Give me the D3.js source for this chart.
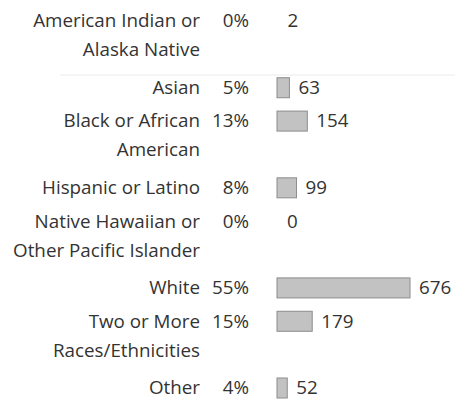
<!DOCTYPE html>
<html><head><meta charset="utf-8">
<script src="https://cdn.jsdelivr.net/npm/d3@7"></script>
<style>body{margin:0;background:#fff}svg{display:block}text{font-family:"Open Sans",sans-serif;fill:#333}</style>
</head><body>
<svg id="c" width="455" height="403"></svg>
<script>
const categories = [
  ["American Indian or","Alaska Native"],
  ["Asian"],
  ["Black or African","American"],
  ["Hispanic or Latino"],
  ["Native Hawaiian or","Other Pacific Islander"],
  ["White"],
  ["Two or More","Races/Ethnicities"],
  ["Other"]
];
const percents = ["0%","5%","13%","8%","0%","55%","15%","4%"];
const counts = [2,63,154,99,0,676,179,52];

const svg = d3.select("#c");
const starts = [];
let acc = 0;
categories.forEach(c => { starts.push(acc); acc += c.length; });
const y = d3.scaleLinear().domain([0, starts[starts.length-1]]).range([21, 388]);
const x = d3.scaleLinear().domain([0, d3.max(counts)]).range([277, 410]);
const lineGap = 29, fs = 18.8, barH = 20;

svg.append("line").attr("x1",60).attr("x2",455).attr("y1",75).attr("y2",75)
  .attr("stroke","#ececec").attr("stroke-width",1);

const rows = svg.selectAll("g.row").data(categories).join("g").attr("class","row");
rows.each(function(lines, i){
  const g = d3.select(this);
  const cy = y(starts[i]);
  lines.forEach((t, j) => {
    g.append("text").attr("x",200).attr("y",cy + j*lineGap).attr("dy","0.34em")
      .attr("text-anchor","end").attr("font-size",fs).text(t);
  });
  g.append("text").attr("x",249).attr("y",cy).attr("dy","0.34em")
    .attr("text-anchor","end").attr("font-size",fs).text(percents[i]);
  const w = x(counts[i]) - x(0);
  if (w > 0.5) {
    g.append("rect").attr("x",x(0)).attr("y",cy - barH/2).attr("width",w).attr("height",barH)
      .attr("fill","#c2c2c2").attr("stroke","#8c8c8c").attr("stroke-width",1);
  }
  g.append("text").attr("x",x(counts[i]) + (w > 0.5 ? 9 : 10)).attr("y",cy).attr("dy","0.34em")
    .attr("font-size",fs).text(counts[i]);
});
</script>
</body></html>
